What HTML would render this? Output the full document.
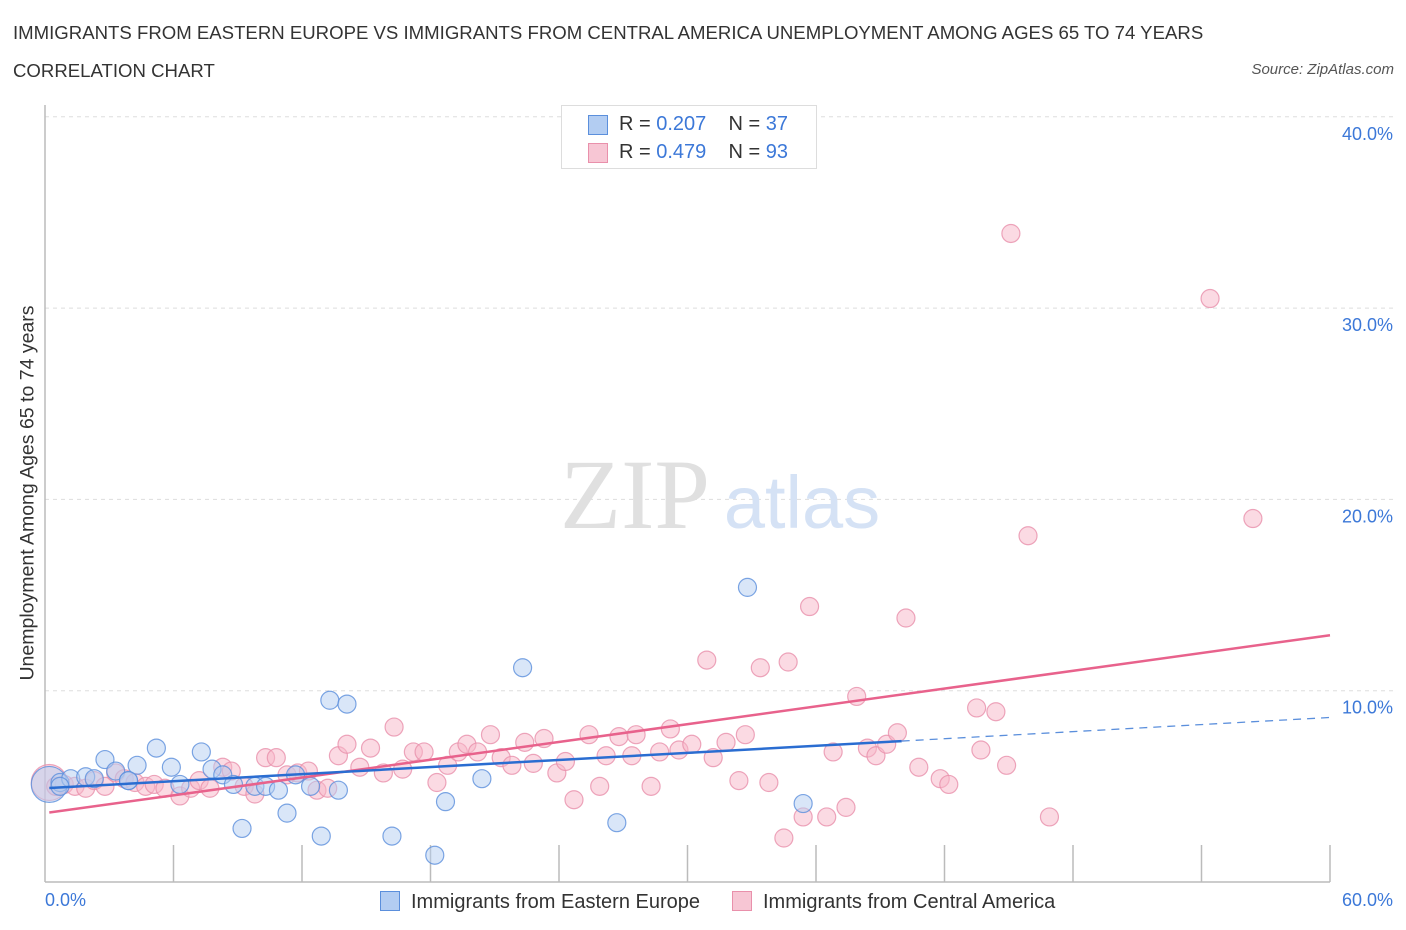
<!DOCTYPE html>
<html><head><meta charset="utf-8">
<style>
body{margin:0;background:#fff;font-family:"Liberation Sans",sans-serif;}
#wrap{position:relative;width:1406px;height:930px;overflow:hidden;}
.t{position:absolute;white-space:nowrap;}
</style></head>
<body>
<div id="wrap">
<div class="t" style="left:13px;top:22px;font-size:18.6px;color:#333;">IMMIGRANTS FROM EASTERN EUROPE VS IMMIGRANTS FROM CENTRAL AMERICA UNEMPLOYMENT AMONG AGES 65 TO 74 YEARS</div>
<div class="t" style="left:13px;top:60px;font-size:18.6px;color:#333;">CORRELATION CHART</div>
<div class="t" style="right:12px;top:61px;font-size:15px;color:#555;font-style:italic;">Source: ZipAtlas.com</div>
<svg id="svg" width="1406" height="930" style="position:absolute;left:0;top:0"></svg>
</div>
<script>
const xTicks=[0,10,20,30,40,50,60];
const yTicks=[10,20,30,40];
const yTickLabels=["10.0%","20.0%","30.0%","40.0%"];
const blueX=[0.2,0.7,1.2,1.9,2.3,2.8,3.3,3.9,4.3,5.2,5.9,6.3,7.3,7.8,8.3,8.8,9.2,9.8,10.3,10.9,11.3,11.7,12.4,12.9,13.3,13.7,14.1,16.2,18.2,18.7,20.4,22.3,26.7,32.8,35.4,0.7,3.9];
const blueY=[5.1,5.2,5.4,5.5,5.4,6.4,5.8,5.3,6.1,7.0,6.0,5.1,6.8,5.9,5.6,5.1,2.8,5.0,5.0,4.8,3.6,5.6,5.0,2.4,9.5,4.8,9.3,2.4,1.4,4.2,5.4,11.2,3.1,15.4,4.1,5.0,5.3];
const pinkX=[0.2,0.5,0.9,1.4,1.9,2.3,2.8,3.3,3.7,4.2,4.7,5.1,5.6,6.3,6.8,7.2,7.7,8.3,8.7,9.3,9.8,10.3,10.8,11.3,11.8,12.3,12.7,13.2,13.7,14.1,14.7,15.2,15.8,16.3,16.7,17.2,17.7,18.3,18.8,19.3,19.7,20.2,20.8,21.3,21.8,22.4,22.8,23.3,23.9,24.3,24.7,25.4,25.9,26.2,26.8,27.4,27.6,28.3,28.7,29.2,29.6,30.2,30.9,31.2,31.8,32.4,32.7,33.4,33.8,34.5,34.7,35.4,35.7,36.5,36.8,37.4,37.9,38.4,38.8,39.3,39.8,40.2,40.8,41.8,42.2,43.5,43.7,44.4,44.9,45.1,45.9,46.9,54.4,56.4];
const pinkY=[5.2,5.0,5.1,5.0,4.9,5.3,5.0,5.7,5.4,5.2,5.0,5.1,4.9,4.5,4.9,5.3,4.9,6.0,5.8,5.0,4.6,6.5,6.5,5.6,5.7,5.8,4.8,4.9,6.6,7.2,6.0,7.0,5.7,8.1,5.9,6.8,6.8,5.2,6.1,6.8,7.2,6.8,7.7,6.5,6.1,7.3,6.2,7.5,5.7,6.3,4.3,7.7,5.0,6.6,7.6,6.6,7.7,5.0,6.8,8.0,6.9,7.2,11.6,6.5,7.3,5.3,7.7,11.2,5.2,2.3,11.5,3.4,14.4,3.4,6.8,3.9,9.7,7.0,6.6,7.2,7.8,13.8,6.0,5.4,5.1,9.1,6.9,8.9,6.1,33.9,18.1,3.4,30.5,19.0];
const pinkTrend=[3.6,12.9];
const blueTrend=[4.9,8.6];
const blueSolidEnd=40;
const NS="http://www.w3.org/2000/svg";
const svg=document.getElementById('svg');
const X0=45,X1=1330,Y0=882,YPX=19.13;
function sx(v){return X0+(X1-X0)*v/60;}
function sy(v){return Y0-v*YPX;}
function mk(tag,attrs){const e=document.createElementNS(NS,tag);for(const k in attrs)e.setAttribute(k,attrs[k]);svg.appendChild(e);return e;}
yTicks.forEach((t,i)=>{
 const g=mk('line',{x1:X0,x2:1395,y1:sy(t),y2:sy(t),stroke:'#ddd','stroke-dasharray':'4,4','stroke-width':1});
 
 
 const tx=mk('text',{x:1393,y:sy(t)+23,'text-anchor':'end','font-size':18,fill:'#3c78d8','font-family':'Liberation Sans'});
 tx.textContent=yTickLabels[i];
 
 
});
const ax=mk('line',{x1:X0,x2:X0,y1:105,y2:Y0,stroke:'#bbb','stroke-width':1.5});


const bx=mk('line',{x1:X0,x2:X1,y1:Y0,y2:Y0,stroke:'#bbb','stroke-width':1.5});


for(let i=1;i<=10;i++){const v=i*6;const tk=mk('line',{x1:sx(v),x2:sx(v),y1:Y0-37,y2:Y0,stroke:'#bbb','stroke-width':1.5});
 
 }
const w1=mk('text',{x:635,y:528,'text-anchor':'middle','font-size':100,fill:'#e0e0e0','font-family':'Liberation Serif'});w1.textContent='ZIP';


const w2=mk('text',{x:802,y:528,'text-anchor':'middle','font-size':74,fill:'#d5e2f5','font-family':'Liberation Sans'});w2.textContent='atlas';


function pts(xs,ys,fill,stroke,name){
 xs.forEach((x,i)=>{const r=(i===0)?18:9;
  const c=mk('circle',{cx:sx(x),cy:sy(ys[i]),r:r,fill:fill,'fill-opacity':0.5,stroke:stroke,'stroke-opacity':0.8,'stroke-width':1.2});
  
  });
}
pts(pinkX,pinkY,'#f7b6c8','#e990ab','pink-point');
pts(blueX,blueY,'#b3cdf2','#5b8fdc','blue-point');
const pl=mk('line',{x1:sx(0.2),y1:sy(pinkTrend[0]+(pinkTrend[1]-pinkTrend[0])*0.2/60),x2:sx(60),y2:sy(pinkTrend[1]),stroke:'#e8628c','stroke-width':2.5});


const bAt=v=>blueTrend[0]+(blueTrend[1]-blueTrend[0])*v/60;
const bl=mk('line',{x1:sx(0.2),y1:sy(bAt(0.2)),x2:sx(blueSolidEnd),y2:sy(bAt(blueSolidEnd)),stroke:'#2a6dd1','stroke-width':2.5});


const bd=mk('line',{x1:sx(blueSolidEnd),y1:sy(bAt(blueSolidEnd)),x2:sx(60),y2:sy(bAt(60)),stroke:'#5b8fdc','stroke-width':1.3,'stroke-dasharray':'8,6'});


</script>
<div class="t" style="left:28px;top:493px;font-size:19.5px;color:#333;transform:translate(-50%,-50%) rotate(-90deg);">Unemployment Among Ages 65 to 74 years</div>
<div class="t" style="left:45px;top:890px;font-size:18px;color:#3c78d8;">0.0%</div>
<div class="t" style="right:13px;top:890px;font-size:18px;color:#3c78d8;">60.0%</div>
<div style="position:absolute;left:561px;top:105px;width:254px;height:62px;border:1px solid #ddd;background:#fff;font-size:20px;color:#333;">
 <div style="position:absolute;left:26px;top:9px;width:18px;height:18px;background:#b3cdf2;border:1px solid #5b8fdc;"></div>
 <div class="t" style="left:57px;top:7px;">R = <span style="color:#3c78d8">0.207</span>&nbsp;&nbsp;&nbsp; N = <span style="color:#3c78d8">37</span></div>
 <div style="position:absolute;left:26px;top:37px;width:18px;height:18px;background:#f7c6d4;border:1px solid #e990ab;"></div>
 <div class="t" style="left:57px;top:35px;">R = <span style="color:#3c78d8">0.479</span>&nbsp;&nbsp;&nbsp; N = <span style="color:#3c78d8">93</span></div>
</div>
<div style="position:absolute;left:380px;top:891px;font-size:20px;color:#333;">
 <span style="display:inline-block;width:18px;height:18px;background:#b3cdf2;border:1px solid #5b8fdc;vertical-align:-3px;margin-right:11px;"></span>Immigrants from Eastern Europe</div>
<div style="position:absolute;left:732px;top:891px;font-size:20px;color:#333;">
 <span style="display:inline-block;width:18px;height:18px;background:#f7c6d4;border:1px solid #e990ab;vertical-align:-3px;margin-right:11px;"></span>Immigrants from Central America</div>
</body></html>
